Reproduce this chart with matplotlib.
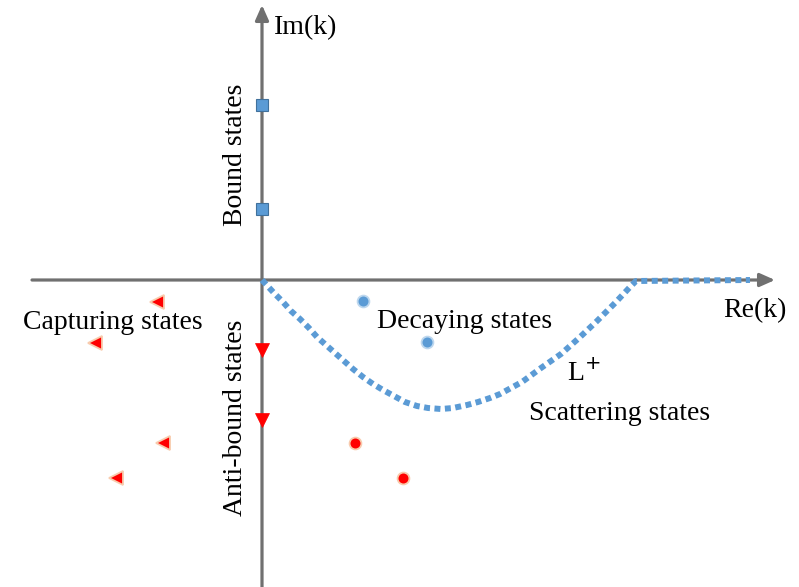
import numpy as np
import matplotlib.pyplot as plt

plt.rcParams['font.family'] = ['Liberation Serif', 'DejaVu Serif']

# complex k-plane, units of 1 (origin at the crossing of the axes)
bound_im = [1.75, 0.71]
antibound_im = [-0.70, -1.40]
capturing_re = [-1.05, -1.67, -0.99, -1.46]
capturing_im = [-0.22, -0.63, -1.63, -1.98]
decaying_re = [1.01, 1.65]
decaying_im = [-0.21, -0.62]
growing_re = [0.93, 1.41]
growing_im = [-1.63, -1.98]

# integration contour L+
contour_re = [0.0, 0.12, 0.21, 0.29, 0.38, 0.47, 0.55, 0.64, 0.73, 0.82,
              0.91, 1.01, 1.11, 1.21, 1.32, 1.43, 1.55, 1.66, 1.79, 1.91,
              2.05, 2.16, 2.28, 2.38, 2.60, 2.79, 2.99, 3.17, 3.35, 3.53,
              3.68, 3.74, 4.88]
contour_im = [0.0, -0.13, -0.22, -0.31, -0.39, -0.48, -0.57, -0.65, -0.73,
              -0.81, -0.89, -0.97, -1.04, -1.10, -1.16, -1.22, -1.26, -1.28,
              -1.29, -1.28, -1.25, -1.22, -1.18, -1.14, -1.02, -0.88, -0.74,
              -0.58, -0.41, -0.23, -0.07, -0.01, 0.0]

fig = plt.figure(figsize=(7.99, 5.87), dpi=100)
ax = fig.add_axes([0, 0, 1, 1])
ax.set_xlim(-2.62, 5.37)
ax.set_ylim(-3.07, 2.80)
ax.axis('off')

axis_col = '#707070'
arrow = dict(arrowstyle='-|>,head_length=0.9,head_width=0.4', color=axis_col,
             lw=2.3, shrinkA=0, shrinkB=0)
ax.annotate('', xy=(5.13, 0), xytext=(-2.30, 0), arrowprops=arrow, zorder=1)
ax.annotate('', xy=(0, 2.75), xytext=(0, -3.10), arrowprops=arrow, zorder=1)

ax.plot(contour_re, contour_im, color='#5B9BD5', lw=4.3, dashes=(1, 0.75),
        solid_capstyle='butt', dash_capstyle='butt', zorder=2)

ax.plot(np.zeros(len(bound_im)), bound_im, 's', ms=8.5, mfc='#5B9BD5',
        mec='#41719C', mew=0.8, zorder=3)
ax.plot(np.zeros(len(antibound_im)), antibound_im, 'v', ms=10, mfc='#FF0000',
        mec='#FF0000', mew=0.5, zorder=3)
ax.plot(capturing_re, capturing_im, '<', ms=9.5, mfc='#FF0000',
        mec='#F8CBAD', mew=1.3, zorder=3)
ax.plot(decaying_re, decaying_im, 'o', ms=8.5, mfc='#5B9BD5',
        mec='#BDD7EE', mew=1.3, zorder=3)
ax.plot(growing_re, growing_im, 'o', ms=8.5, mfc='#FF0000',
        mec='#F8CBAD', mew=1.3, zorder=3)

fs = 20
ax.text(0.12, 2.52, 'Im(k)', fontsize=fs, va='center', ha='left')
ax.text(4.61, -0.31, 'Re(k)', fontsize=fs, va='center', ha='left')
ax.text(-2.39, -0.43, 'Capturing states', fontsize=fs, va='center', ha='left')
ax.text(1.15, -0.42, 'Decaying states', fontsize=fs, va='center', ha='left')
ax.text(3.05, -0.93, 'L$^{+}$', fontsize=fs, va='center', ha='left')
ax.text(2.67, -1.34, 'Scattering states', fontsize=fs, va='center', ha='left')
ax.text(-0.27, 1.25, 'Bound states', fontsize=fs, va='center', ha='center',
        rotation=90)
ax.text(-0.27, -1.38, 'Anti-bound states', fontsize=fs, va='center',
        ha='center', rotation=90)

fig.savefig('out.png', dpi=100)
